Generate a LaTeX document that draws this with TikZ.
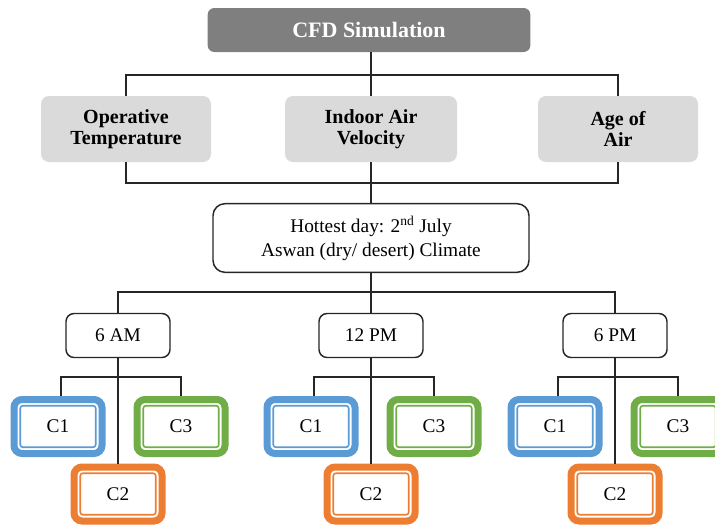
\documentclass[tikz,border=0pt]{standalone}
\usepackage{fontspec}
\setmainfont{Liberation Serif}
\definecolor{cfdgray}{HTML}{7F7F7F}
\definecolor{boxgray}{HTML}{DADADA}
\definecolor{cblue}{HTML}{5B9BD5}
\definecolor{corange}{HTML}{ED7D31}
\definecolor{cgreen}{HTML}{70AD47}
\definecolor{linec}{HTML}{262626}
\begin{document}
\begin{tikzpicture}[x=0.75pt,y=-0.75pt,
  conn/.style={draw=linec, line width=1.3pt},
  topbox/.style={fill=cfdgray, rounded corners=5pt, minimum width=242pt, minimum height=33pt,
    inner sep=0pt, text=white, font=\fontsize{16.5}{18}\selectfont\bfseries},
  graybox/.style={fill=boxgray, rounded corners=6pt, minimum height=49.5pt, inner sep=0pt,
    align=center, font=\fontsize{15}{15.5}\selectfont\bfseries},
  daybox/.style={draw=linec, line width=1.1pt, fill=white, rounded corners=9pt, minimum width=237pt,
    minimum height=51.5pt, inner sep=0pt, align=center, font=\fontsize{14.5}{18}\selectfont},
  timebox/.style={draw=linec, line width=1.1pt, fill=white, rounded corners=6pt, minimum width=78pt,
    minimum height=33pt, inner sep=0pt, font=\fontsize{14.5}{16}\selectfont},
  cbox/.style={draw=#1, line width=5.25pt, fill=white, rounded corners=6pt, minimum width=66pt,
    minimum height=40.5pt, inner sep=0pt, font=\fontsize{14.5}{16}\selectfont},
  cinner/.style={draw=#1, line width=1.2pt, rounded corners=2pt}
]
\useasboundingbox (0,0) rectangle (715,525);

% top level
\node[topbox] (cfd) at (369,30) {CFD Simulation};
\node[graybox, minimum width=127.5pt] (op) at (126,129) {Operative\\Temperature};
\node[graybox, minimum width=129pt] (iav) at (371,129) {Indoor Air\\Velocity};
\node[graybox, minimum width=120pt] (age) at (618,129) {Age of\\Air};
\node[daybox] (hot) at (371,238) {Hottest day: 2\textsuperscript{nd} July\\Aswan (dry/ desert) Climate};

\draw[conn] (cfd.south -| iav.north) -- (iav.north);
\draw[conn] (op.north) -- (op.north |- 0,75) -| (age.north);
\draw[conn] (op.south) -- (op.south |- 0,183) -| (age.south);
\draw[conn] (iav.south) -- (hot.north);

% time boxes
\node[timebox] (ta) at (118,335.5) {6 AM};
\node[timebox] (tb) at (371,335.5) {12 PM};
\node[timebox] (tc) at (615,335.5) {6 PM};

\draw[conn] (hot.south) -- (tb.north);
\draw[conn] (ta.north) -- (ta.north |- 0,292) -| (tc.north);

\foreach \g/\gx in {a/118, b/371, c/615} {
  \node[cbox=cblue] (c1\g) at (\gx-60,426.5) {C1};
  \node[cbox=cgreen] (c3\g) at (\gx+63,426.5) {C3};
  \node[cbox=corange] (c2\g) at (\gx,494) {C2};
  \draw[cinner=cblue] ([xshift=7.3pt,yshift=-7.3pt]c1\g.north west) rectangle ([xshift=-7.3pt,yshift=7.3pt]c1\g.south east);
  \draw[cinner=cgreen] ([xshift=7.3pt,yshift=-7.3pt]c3\g.north west) rectangle ([xshift=-7.3pt,yshift=7.3pt]c3\g.south east);
  \draw[cinner=corange] ([xshift=7.3pt,yshift=-7.3pt]c2\g.north west) rectangle ([xshift=-7.3pt,yshift=7.3pt]c2\g.south east);
  \draw[conn] (t\g.south) -- (c2\g.north);
  \draw[conn] ([xshift=2.5pt]c1\g.north) -- ([xshift=2.5pt]c1\g.north |- 0,377) -| (c3\g.north);
}
\end{tikzpicture}
\end{document}
